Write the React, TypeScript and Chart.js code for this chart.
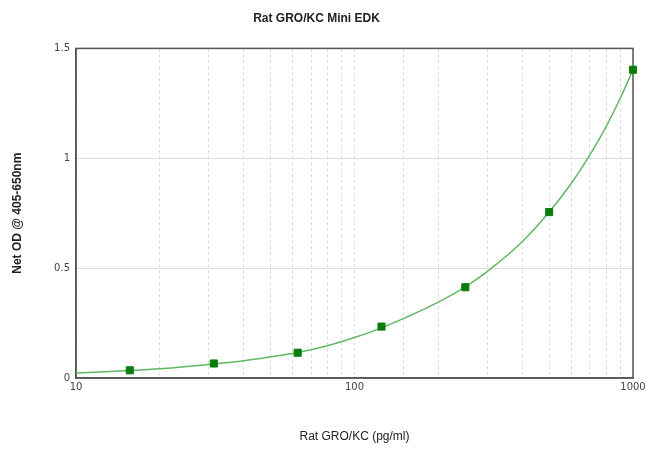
import React, { useEffect, useRef } from 'react';
// @ts-ignore
import { Chart } from 'chart.js/auto';

// standards (pg/ml) and measured OD
const concentrations = [15.6, 31.25, 62.5, 125, 250, 500, 1000];
const odValues = [0.035, 0.066, 0.115, 0.234, 0.413, 0.755, 1.403];

// fitted curve
const fitConc = [10, 15.6, 20, 31.25, 40, 62.5, 80, 100, 125, 200, 250, 300, 400, 500, 600, 700, 800, 900, 1000];
const fitOd = [0.023, 0.034, 0.042, 0.064, 0.079, 0.116, 0.147, 0.184, 0.228, 0.345, 0.415, 0.485, 0.62, 0.755, 0.885, 1.015, 1.143, 1.273, 1.403];

const xTickLabels = [10, 100, 1000];
const yTickLabels = [0, 0.5, 1, 1.5];

const frame = {
    id: 'frame',
    beforeDatasetsDraw(chart: any) {
        const { ctx, chartArea: a } = chart;
        ctx.save();
        ctx.strokeStyle = '#555555';
        ctx.lineWidth = 1.5;
        ctx.strokeRect(a.left, a.top, a.right - a.left, a.bottom - a.top);
        ctx.restore();
    },
};

const App: React.FC = () => {
    const chartRef = useRef<HTMLCanvasElement>(null);
    const chartInstance = useRef<Chart | null>(null);

    useEffect(() => {
        if (!chartRef.current) return;
        if (chartInstance.current) chartInstance.current.destroy();
        const ctx = chartRef.current.getContext('2d');
        if (!ctx) return;
        chartInstance.current = new Chart(ctx, {
            type: 'scatter',
            data: {
                datasets: [
                    {
                        label: 'Standards',
                        data: concentrations.map((c, i) => ({ x: c, y: odValues[i] })),
                        pointStyle: 'rect',
                        pointRadius: 5,
                        backgroundColor: '#0a7d0a',
                        borderColor: '#0a7d0a',
                        borderWidth: 1,
                        clip: false,
                        order: 0,
                    },
                    {
                        label: 'Fit',
                        data: fitConc.map((c, i) => ({ x: c, y: fitOd[i] })),
                        showLine: true,
                        pointRadius: 0,
                        borderColor: '#62b862',
                        borderWidth: 1.5,
                        cubicInterpolationMode: 'monotone',
                        order: 1,
                    },
                ],
            },
            options: {
                animation: false,
                responsive: true,
                maintainAspectRatio: false,
                layout: { padding: { left: 0, right: 17, top: 0, bottom: 0 } },
                scales: {
                    x: {
                        type: 'logarithmic',
                        min: 10,
                        max: 1000,
                        afterFit: (s: any) => { s.height = 88; },
                        grid: { color: '#dadada', lineWidth: 1, drawTicks: false },
                        border: { display: true, color: '#555555', width: 1.5, dash: [3, 3] },
                        ticks: {
                            autoSkip: false,
                            maxRotation: 0,
                            padding: 3,
                            color: '#444444',
                            font: { family: 'DejaVu Sans', size: 10 },
                            callback: (v: any) => (xTickLabels.includes(Number(v)) ? String(v) : ''),
                        },
                        title: {
                            display: true,
                            text: 'Rat GRO/KC (pg/ml)',
                            color: '#222222',
                            font: { family: 'Liberation Sans', size: 12 },
                            padding: { top: 0, bottom: 22 },
                        },
                    },
                    y: {
                        min: 0,
                        max: 1.5,
                        afterFit: (s: any) => { s.width = 76; },
                        grid: { color: '#dddddd', lineWidth: 1, drawTicks: false },
                        border: { display: true, color: '#555555', width: 1.5 },
                        ticks: {
                            stepSize: 0.5,
                            padding: 6,
                            color: '#444444',
                            font: { family: 'DejaVu Sans', size: 10 },
                            callback: (v: any) => (yTickLabels.includes(Number(v)) ? String(v) : ''),
                        },
                        title: {
                            display: true,
                            text: 'Net OD @ 405-650nm',
                            color: '#222222',
                            font: { family: 'Liberation Sans', size: 12, weight: 'bold' },
                            padding: { top: 10, bottom: 0 },
                        },
                    },
                },
                plugins: {
                    legend: { display: false },
                    tooltip: { enabled: false },
                    title: {
                        display: true,
                        text: 'Rat GRO/KC Mini EDK',
                        color: '#222222',
                        font: { family: 'Liberation Sans', size: 12, weight: 'bold' },
                        padding: { top: 11, bottom: 23 },
                    },
                },
            },
            plugins: [frame],
        });
        return () => {
            if (chartInstance.current) chartInstance.current.destroy();
        };
    }, []);

    return (
        <div style={{ position: 'absolute', left: 0, top: 0, width: 650, height: 466, background: '#fff' }}>
            <canvas ref={chartRef}></canvas>
        </div>
    );
};

export default App;
